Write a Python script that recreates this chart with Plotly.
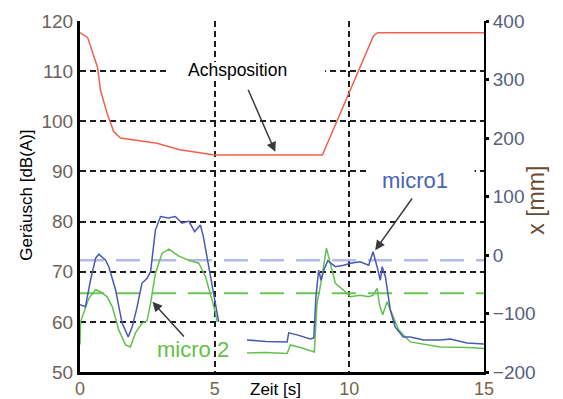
import plotly.graph_objects as go

# ---------------- data ----------------
# Achsposition (right axis, mm)
t_pos = [0, 0.28, 0.65, 0.76, 1.0, 1.25, 1.5, 2.0, 2.86, 3.7, 4.6, 5.0, 9.0, 10.9, 11.05, 15]
pos_mm = [380, 372, 321, 282, 243, 211, 200, 197, 191, 180, 173, 171, 171, 375, 380, 380]

# micro1 (left axis, dB(A))
t_m1 = [0, 0.2, 0.39, 0.58, 0.7, 0.95, 1.07, 1.32, 1.56, 1.79, 1.94, 2.12, 2.3, 2.49, 2.62,
        2.7, 2.8, 2.99, 3.28, 3.54, 3.79, 4.04, 4.26, 4.47, 4.58, 4.78, 4.97, 5.15,
        None,
        6.2, 6.9, 7.69, 7.75, 8.06, 8.55, 8.68, 8.76, 8.86, 8.95, 9.05, 9.2, 9.48, 9.79, 10.04,
        10.4, 10.72, 10.88, 11.03, 11.15, 11.22, 11.34, 11.52, 11.7, 12.0, 12.26, 12.76,
        13.38, 13.75, 14.37, 15]
db_m1 = [63.4, 63, 68.3, 72.7, 73.5, 72.3, 71, 66.4, 59.8, 57, 59, 63, 67.7, 68.7, 70,
         74.3, 78.3, 81, 80.7, 81, 79.7, 80.1, 78, 79.3, 77, 71, 65, 60,
         None,
         56.4, 56.1, 56, 57.8, 57.4, 56.6, 56.8, 65, 70.3, 68.3, 70.3, 72.2, 71, 71.3, 71.7,
         72, 71.3, 74, 71, 68.3, 71, 69, 62.4, 59, 57, 57, 56.4,
         56.4, 56.6, 55.8, 55.6]

# micro 2 (left axis, dB(A))
t_m2 = [0, 0.02, 0.14, 0.33, 0.58, 0.76, 1.01, 1.2, 1.44, 1.69, 1.87, 2.06, 2.3, 2.49, 2.62,
        2.8, 3.05, 3.3, 3.67, 4.04, 4.41, 4.66, 4.9, 5.03, 5.09,
        None,
        6.2, 6.9, 7.69, 7.81, 8.18, 8.49, 8.7, 8.8, 8.92, 9.15, 9.3, 9.48, 9.79, 10.04, 10.4,
        10.72, 10.88, 11.03, 11.12, 11.24, 11.4, 11.58, 11.83, 12.26, 13.38, 14.37, 15]
db_m2 = [55.5, 60, 61.8, 64.7, 66.4, 66, 65, 63, 58.4, 55.4, 55, 57.8, 59.7, 60.2, 63.7,
         69.7, 73.7, 74.5, 73.1, 72.3, 71.7, 69, 64.4, 61.8, 60,
         None,
         53.8, 53.9, 53.7, 55.4, 54.9, 54.4, 54, 63.7, 67, 74.7, 71.7, 67.7, 66.3, 65, 65.3,
         65, 65.3, 66.7, 63.4, 61.4, 64, 61.7, 58.4, 56, 55, 54.9, 54.7, 54.5]

# reference levels (dashed)
t_ref = [0, 15]
ref_m1 = 72.3
ref_m2 = 65.7

x_ticks = [0, 5, 10, 15]
y_ticks = [50, 60, 70, 80, 90, 100, 110, 120]
y2_ticks = [-200, -100, 0, 100, 200, 300, 400]

# ---------------- colours / styles ----------------
RED = "#f0604c"
BLUE = "#4a58b8"
GREEN = "#64c04e"
LBLUE = "#b2bbea"
LGREEN = "#6cc656"
FONT = "Arial, Liberation Sans, sans-serif"

fig = go.Figure()

fig.add_trace(go.Scatter(x=t_ref, y=[ref_m1, ref_m1], mode="lines",
                         line=dict(color=LBLUE, width=2.5, dash="24px,12px"),
                         hoverinfo="skip", showlegend=False))
fig.add_trace(go.Scatter(x=t_ref, y=[ref_m2, ref_m2], mode="lines",
                         line=dict(color=LGREEN, width=2, dash="24px,12px"),
                         hoverinfo="skip", showlegend=False))
fig.add_trace(go.Scatter(x=t_m2, y=db_m2, mode="lines", name="micro 2",
                         line=dict(color=GREEN, width=1.5), connectgaps=False, showlegend=False))
fig.add_trace(go.Scatter(x=t_m1, y=db_m1, mode="lines", name="micro1",
                         line=dict(color=BLUE, width=1.5), connectgaps=False, showlegend=False))
fig.add_trace(go.Scatter(x=t_pos, y=pos_mm, mode="lines", name="Achsposition", yaxis="y2",
                         line=dict(color=RED, width=1.5), showlegend=False))

grid = dict(showgrid=True, gridcolor="#1e1e1e", gridwidth=2, griddash="6px,4px")

fig.update_layout(
    width=563, height=399,
    margin=dict(l=80, r=79, t=21, b=27, autoexpand=False),
    paper_bgcolor="white", plot_bgcolor="white",
    font=dict(family=FONT),
    xaxis=dict(range=[0, 15], tickvals=x_ticks, **grid, zeroline=False, automargin=False,
               showline=True, linecolor="black", linewidth=3,
               ticks="", tickfont=dict(size=18, color="#7a6448"), ticklabelstandoff=-2),
    yaxis=dict(range=[50, 120], tickvals=y_ticks, **grid, zeroline=False, automargin=False,
               showline=True, linecolor="black", linewidth=3,
               ticks="", tickfont=dict(size=19, color="#6e625c")),
    yaxis2=dict(range=[-200, 400], tickvals=y2_ticks, overlaying="y", side="right",
                automargin=False,
                showgrid=False, zeroline=False, showline=True, linecolor="black", linewidth=2,
                ticks="outside", ticklen=3, tickwidth=3, tickcolor="black",
                tickfont=dict(size=19, color="#58607c")),
)

# white boxes behind the labels (cover the grid)
fig.add_shape(type="rect", xref="x", yref="y", x0=3.2, x1=9.1, y0=108.3, y1=111.8,
              fillcolor="white", line=dict(width=0), layer="between")
fig.add_shape(type="rect", xref="x", yref="y", x0=10.7, x1=14.65, y0=85.5, y1=91.5,
              fillcolor="white", line=dict(width=0), layer="between")

# labels
fig.add_annotation(x=5.85, y=110.2, xref="x", yref="y", text="Achsposition", showarrow=False,
                   font=dict(size=17.5, color="black"))
fig.add_annotation(x=12.45, y=88.1, xref="x", yref="y", text="micro1", showarrow=False,
                   font=dict(size=22, color="#4a64b4"))
fig.add_annotation(x=4.2, y=54.4, xref="x", yref="y", text="micro 2", showarrow=False,
                   font=dict(size=22, color="#66c04a"))

# arrows
ARW = dict(showarrow=True, arrowhead=2, arrowsize=1.3, arrowwidth=1.5, arrowcolor="#3a3a3a",
           text="", xref="x", yref="y", axref="x", ayref="y")
fig.add_annotation(x=7.25, y=93.9, ax=6.22, ay=106.6, **ARW)
fig.add_annotation(x=10.96, y=74.3, ax=12.37, ay=84.9, **ARW)
fig.add_annotation(x=2.69, y=64.0, ax=3.91, ay=56.8, **ARW)

# axis titles
fig.add_annotation(x=7.24, y=-0.05, xref="x", yref="paper", text="Zeit [s]", showarrow=False,
                   font=dict(size=17, color="black"), yanchor="middle")
fig.add_annotation(x=-0.163, y=0.504, xref="paper", yref="paper", text="Geräusch [dB(A)]",
                   showarrow=False, textangle=-90, font=dict(size=17, color="black"))
fig.add_annotation(x=1.165, y=0.49, xref="paper", yref="paper", text="x [mm]",
                   showarrow=False, textangle=-90, font=dict(size=23, color="#6a4c34"))

fig.write_html("out.html", config={"displayModeBar": False},
               post_script="document.body.style.margin='0px';document.body.style.overflow='hidden';")
